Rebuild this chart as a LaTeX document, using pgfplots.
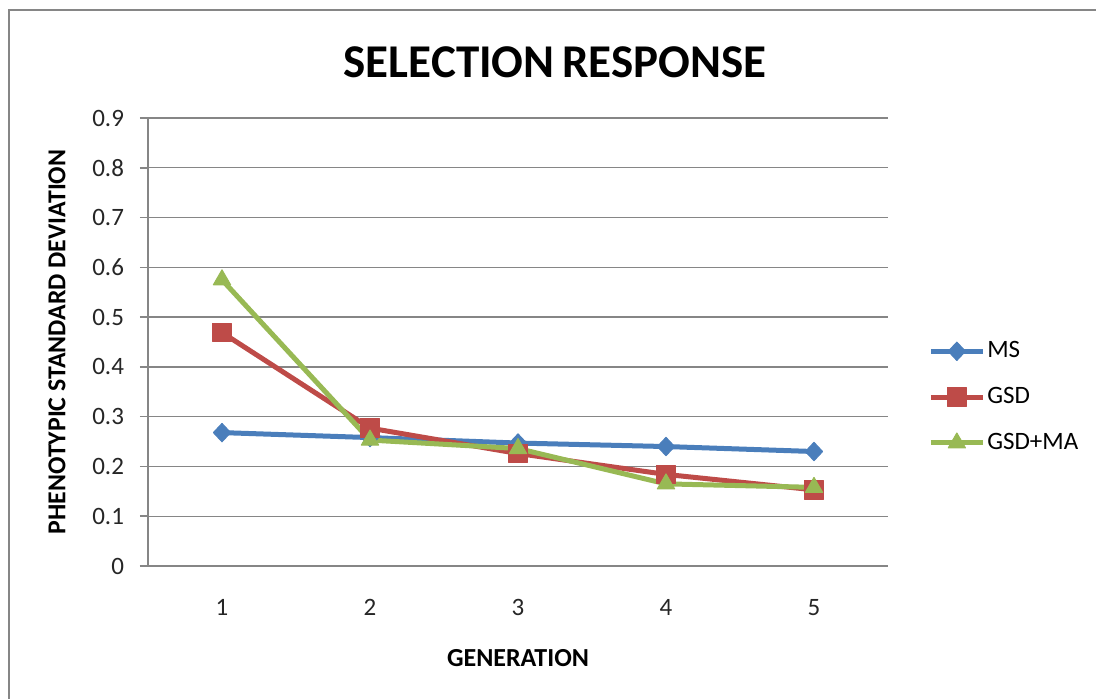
\documentclass[border=0pt]{standalone}
\usepackage{pgfplots}
\pgfplotsset{compat=1.18}
\usepackage{fontspec}
\setmainfont{Carlito}

\definecolor{msblue}{RGB}{74,126,187}
\definecolor{gsdred}{RGB}{190,75,72}
\definecolor{magreen}{RGB}{152,185,84}
\definecolor{gridgray}{RGB}{134,134,134}

\begin{document}
\begin{tikzpicture}
% page = 1096x698 px at 0.5pt per px, axis box starts at (0,0)
\path[use as bounding box] (-74pt,-66pt) rectangle (474pt,283pt);
\draw[gridgray, line width=1pt] (-69.5pt,-70pt) -- (-69.5pt,278pt) -- (480pt,278pt);

\begin{axis}[
  at={(0,0)}, anchor=south west,
  scale only axis, width=370pt, height=224pt,
  xmin=0.5, xmax=5.5, ymin=0, ymax=0.9,
  xtick={1,2,3,4,5}, xticklabels={1,2,3,4,5},
  ytick={0,0.1,...,0.9},
  /pgf/number format/assume math mode=true,
  /pgf/number format/fixed, /pgf/number format/precision=1,
  axis x line=bottom, axis y line=left,
  axis line style={gridgray, line width=0.8pt, -},
  x axis line style={shorten <=-4pt},
  ymajorgrids, grid style={gridgray, line width=0.7pt},
  tick align=outside, major tick length=4pt,
  ytick style={gridgray, line width=0.8pt},
  xtick style={draw=none},
  ticklabel style={font=\fontsize{12.5}{14}\selectfont, text=black!85},
  yticklabel style={xshift=-4.5pt},
  xticklabel style={yshift=-9pt},
  title={\textbf{SELECTION\hspace{-1.5pt} RESPONSE}},
  title style={font=\fontsize{23.5}{27}\selectfont, at={(axis description cs:0.55,1.098)}, anchor=center},
  xlabel={\textbf{GENERATION}},
  xlabel style={font=\fontsize{13}{15}\selectfont, at={(axis description cs:0.5,-0.205)}, anchor=center},
  ylabel={\textbf{PHENOTYPIC STANDARD DEVIATION}},
  ylabel style={font=\fontsize{12.9}{15}\selectfont, at={(axis description cs:-0.123,0.5)}, anchor=center},
  legend style={at={(axis description cs:1.054,0.377)}, anchor=west, draw=none, fill=none,
    font=\fontsize{12.5}{14}\selectfont, row sep=11.3pt, inner sep=0pt,
    nodes={inner sep=1pt}},
  legend cell align=left,
  legend image code/.code={\draw[mark repeat=2,mark phase=2] plot coordinates {(0pt,0pt)(13pt,0pt)(26pt,0pt)};},
  every axis plot/.append style={line width=2.5pt, line join=round},
]
\addplot[color=msblue, mark=diamond*, mark size=4.6pt, mark options={xscale=1.25, line width=0.5pt}]
  coordinates {(1,0.268) (2,0.258) (3,0.247) (4,0.240) (5,0.230)};
\addplot[color=gsdred, mark=square*, mark size=4.6pt, mark options={line width=0.5pt}]
  coordinates {(1,0.469) (2,0.277) (3,0.226) (4,0.184) (5,0.153)};
\addplot[color=magreen, mark=triangle*, mark size=5pt, mark options={line width=0.5pt}]
  coordinates {(1,0.575) (2,0.253) (3,0.236) (4,0.165) (5,0.158)};
\legend{MS, GSD, GSD+MA}
\end{axis}
\end{tikzpicture}
\end{document}
